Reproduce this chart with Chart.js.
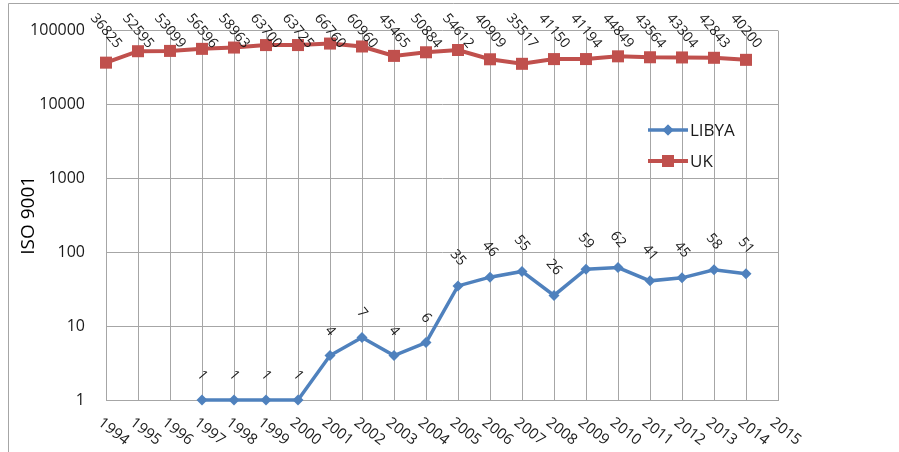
<!DOCTYPE html>
<html lang="en">
<head>
  <meta charset="UTF-8" />
  <title>ISO 9001 - Libya vs UK</title>
  <script src="https://cdn.jsdelivr.net/npm/chart.js"></script>
  <style>
    body { margin: 0; background: #fff; }
    #wrap { width: 899px; height: 452px; position: relative; }
  </style>
</head>
<body>
  <div id="wrap"><canvas id="isoChart"></canvas></div>

  <script>
    // data
    const years = ['1994', '1995', '1996', '1997', '1998', '1999', '2000', '2001', '2002', '2003', '2004',
      '2005', '2006', '2007', '2008', '2009', '2010', '2011', '2012', '2013', '2014', '2015'];
    const libya = [null, null, null, 1, 1, 1, 1, 4, 7, 4, 6, 35, 46, 55, 26, 59, 62, 41, 45, 58, 51];
    const uk = [36825, 52595, 53099, 56596, 58963, 63700, 63725, 66760, 60960, 45465, 50884,
      54612, 40909, 35517, 41150, 41194, 44849, 43564, 43304, 42843, 40200];
    const yTicks = [1, 10, 100, 1000, 10000, 100000];

    const textColor = '#1a1a1a';
    const gridColor = '#a6a6a6';
    const blue = '#4f81bd';
    const red = '#c0504d';

    // outer frame (only top and left edges are visible in the picture)
    const framePlugin = {
      id: 'frame',
      beforeDraw(chart) {
        const ctx = chart.ctx;
        ctx.save();
        ctx.fillStyle = '#fff';
        ctx.fillRect(0, 0, chart.width, chart.height);
        ctx.strokeStyle = gridColor;
        ctx.lineWidth = 1;
        ctx.beginPath();
        ctx.moveTo(8.5, chart.height);
        ctx.lineTo(8.5, 3.5);
        ctx.lineTo(chart.width, 3.5);
        ctx.stroke();
        ctx.restore();
      }
    };

    // rotated value labels above each point
    const valueLabels = {
      id: 'valueLabels',
      afterDatasetsDraw(chart) {
        const ctx = chart.ctx;
        ctx.save();
        ctx.font = '14px "Open Sans"';
        ctx.fillStyle = textColor;
        ctx.textAlign = 'center';
        ctx.textBaseline = 'middle';
        chart.data.datasets.forEach((ds, di) => {
          const meta = chart.getDatasetMeta(di);
          meta.data.forEach((pt, i) => {
            const v = ds.data[i];
            if (v == null) return;
            const txt = String(v);
            const w = ctx.measureText(txt).width;
            let y = pt.y - (21 + 0.45 * w);
            if (y < 31) y = 31;
            ctx.save();
            ctx.translate(pt.x, y);
            ctx.rotate(50 * Math.PI / 180);
            ctx.fillText(txt, 0, 0);
            ctx.restore();
          });
        });
        ctx.restore();
      }
    };

    // x labels rotated clockwise, which the built-in axis can't do
    const xLabels = {
      id: 'xLabels',
      afterDraw(chart) {
        const ctx = chart.ctx;
        const sx = chart.scales.x;
        const bottom = chart.chartArea.bottom;
        ctx.save();
        ctx.font = '15px "Open Sans"';
        ctx.fillStyle = textColor;
        ctx.textAlign = 'left';
        ctx.textBaseline = 'middle';
        years.forEach((lab, i) => {
          const x = sx.getPixelForTick(i);
          ctx.save();
          ctx.translate(x - 6, bottom + 21);
          ctx.rotate(38 * Math.PI / 180);
          ctx.fillText(lab, 0, 0);
          ctx.restore();
        });
        ctx.restore();
      }
    };

    // legend inside the plot, line + marker like the original
    const legendBox = {
      id: 'legendBox',
      afterDraw(chart) {
        const ctx = chart.ctx;
        const items = [
          { text: 'LIBYA', color: blue, y: 130, ds: 0 },
          { text: 'UK', color: red, y: 161, ds: 1 }
        ];
        ctx.save();
        items.forEach(it => {
          const d = chart.data.datasets[it.ds];
          ctx.strokeStyle = it.color;
          ctx.lineWidth = d.borderWidth;
          ctx.beginPath();
          ctx.moveTo(648, it.y);
          ctx.lineTo(688, it.y);
          ctx.stroke();
          Chart.helpers.drawPoint(ctx, {
            pointStyle: d.pointStyle, radius: d.pointRadius, borderWidth: 0
          }, 668, it.y);
          ctx.fillStyle = it.color;
          ctx.fill();
          ctx.fillStyle = textColor;
          ctx.font = '17px "Open Sans"';
          ctx.textAlign = 'left';
          ctx.textBaseline = 'middle';
          ctx.fillText(it.text, 690, it.y + 1);
        });
        ctx.restore();
      }
    };

    new Chart(document.getElementById('isoChart'), {
      type: 'line',
      data: {
        labels: years,
        datasets: [
          {
            label: 'LIBYA',
            data: libya,
            borderColor: blue,
            backgroundColor: blue,
            borderWidth: 3.5,
            pointStyle: 'rectRot',
            pointRadius: 5.5,
            pointBorderWidth: 0,
            tension: 0,
            clip: false
          },
          {
            label: 'UK',
            data: uk,
            borderColor: red,
            backgroundColor: red,
            borderWidth: 4,
            pointStyle: 'rect',
            pointRadius: 8.5,
            pointBorderWidth: 0,
            tension: 0,
            clip: false
          }
        ]
      },
      options: {
        responsive: true,
        maintainAspectRatio: false,
        animation: false,
        layout: { padding: { left: 0, top: 26, right: 121, bottom: 52 } },
        plugins: {
          legend: { display: false },
          tooltip: { enabled: false }
        },
        scales: {
          x: {
            type: 'category',
            offset: false,
            grid: { color: gridColor, lineWidth: 1, drawTicks: false },
            border: { color: gridColor },
            ticks: { display: false }
          },
          y: {
            type: 'logarithmic',
            min: 1,
            max: 100000,
            afterBuildTicks: scale => {
              scale.ticks = yTicks.map(v => ({ value: v }));
            },
            afterFit: scale => { scale.width = 106; },
            grid: { color: gridColor, lineWidth: 1, drawTicks: false },
            border: { color: gridColor },
            ticks: {
              padding: 21,
              color: textColor,
              font: { family: 'Open Sans', size: 16 },
              callback: v => String(v)
            },
            title: {
              display: true,
              text: 'ISO 9001',
              color: '#000',
              font: { family: 'Open Sans', size: 19 },
              padding: { top: 17, bottom: 0 }
            }
          }
        }
      },
      plugins: [framePlugin, valueLabels, xLabels, legendBox]
    });
  </script>
</body>
</html>
